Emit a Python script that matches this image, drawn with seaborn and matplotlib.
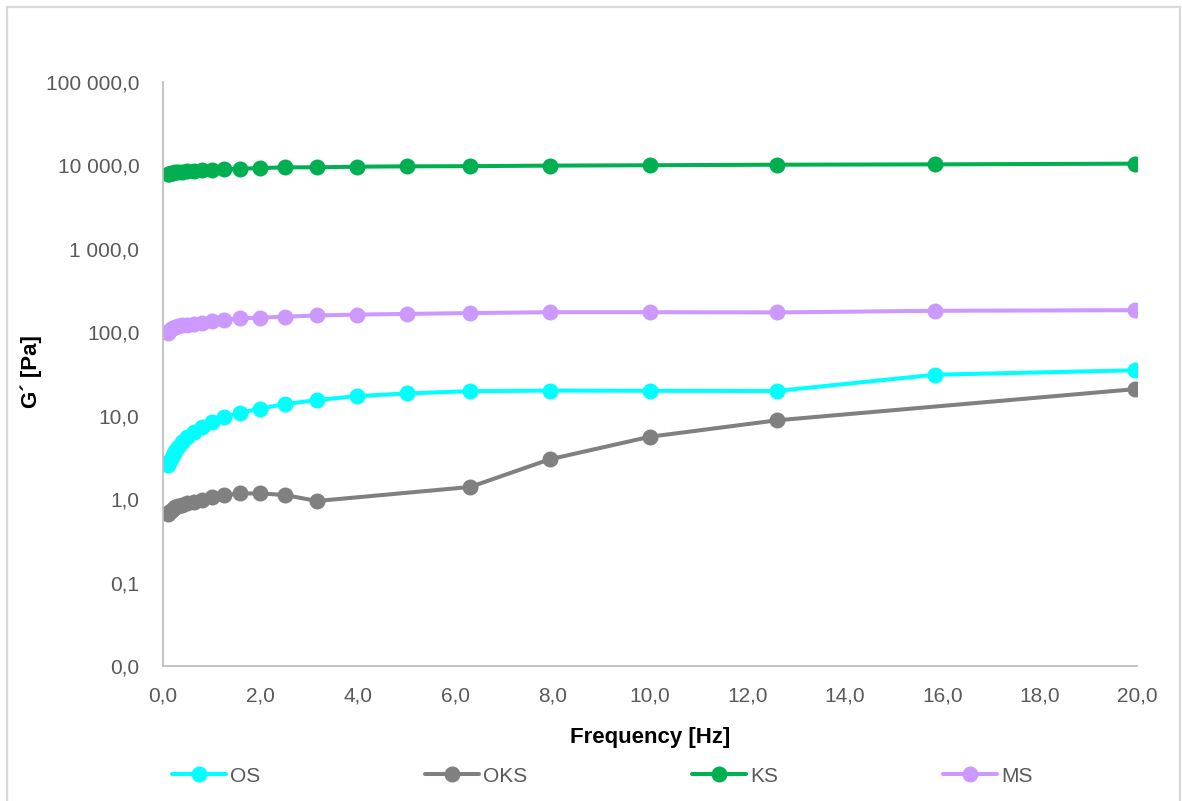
import matplotlib
matplotlib.use("Agg")
import matplotlib.pyplot as plt
import matplotlib.ticker as mticker
from matplotlib.patches import Rectangle
import seaborn as sns
import pandas as pd

# ---- data ----
freq = [0.1, 0.126, 0.158, 0.2, 0.251, 0.316, 0.398, 0.501, 0.631, 0.794,
        1.0, 1.26, 1.58, 2.0, 2.51, 3.16, 3.98, 5.01, 6.31, 7.94,
        10.0, 12.6, 15.85, 19.95]
os_vals = [2.56, 2.8, 3.05, 3.4, 3.8, 4.25, 4.85, 5.5, 6.3, 7.3,
           8.4, 9.7, 10.8, 12.2, 13.8, 15.4, 17.2, 18.5, 19.7, 20.0,
           19.9, 19.8, 31.0, 35.0]
oks_freq = [0.1, 0.126, 0.158, 0.2, 0.251, 0.316, 0.398, 0.501, 0.631, 0.794,
            1.0, 1.26, 1.58, 2.0, 2.51, 3.16, 6.31, 7.94, 10.0, 12.6, 19.95]
oks_vals = [0.67, 0.70, 0.73, 0.77, 0.80, 0.83, 0.86, 0.89, 0.93, 0.97,
            1.05, 1.12, 1.17, 1.17, 1.12, 0.95, 1.40, 3.0, 5.6, 8.8, 20.8]
ks_vals = [7800, 7950, 8050, 8150, 8250, 8350, 8450, 8550, 8650, 8720,
           8800, 8960, 9130, 9300, 9490, 9490, 9660, 9750, 9800, 9950,
           10050, 10200, 10300, 10500]
ms_vals = [99, 105, 109, 113, 116, 119, 121, 123, 126, 128,
           136, 140, 147, 150, 154, 159, 163, 166, 170, 174,
           174, 173, 181, 184]
series_names = ["OS", "OKS", "KS", "MS"]
series_colors = ["#00FFFF", "#808080", "#00B050", "#CC99FF"]
x_ticks = [0, 2, 4, 6, 8, 10, 12, 14, 16, 18, 20]
y_ticks = [0.01, 0.1, 1, 10, 100, 1000, 10000, 100000]

sns.set_style("white")
plt.rcParams['font.family'] = ['Liberation Sans', 'DejaVu Sans']

fig = plt.figure(figsize=(11.82, 8.01), dpi=100)
W, H = 1182, 801
L, R, T, B = 163, 1137, 82, 666
ax = fig.add_axes([L / W, 1 - B / H, (R - L) / W, (B - T) / H])

data = [(freq, os_vals), (oks_freq, oks_vals), (freq, ks_vals), (freq, ms_vals)]
for (xs, ys), name, col in zip(data, series_names, series_colors):
    df = pd.DataFrame({"x": xs, "y": ys})
    sns.lineplot(data=df, x="x", y="y", ax=ax, color=col, lw=2.9,
                 marker="o", markersize=11.5, markeredgewidth=0,
                 label=name, legend=False)

ax.set_yscale("log")
ax.set_xlim(0, 20)
ax.set_ylim(0.01, 100000)
ax.set_xticks(x_ticks)
ax.set_yticks(y_ticks)
ax.yaxis.set_minor_locator(mticker.NullLocator())

def yfmt(v, pos):
    return f"{v:,.1f}".replace(",", " ").replace(".", ",")

def xfmt(v, pos):
    return f"{v:.1f}".replace(".", ",")

ax.yaxis.set_major_formatter(mticker.FuncFormatter(yfmt))
ax.xaxis.set_major_formatter(mticker.FuncFormatter(xfmt))
ax.tick_params(axis="both", length=0, labelsize=15, labelcolor="#595959")
ax.tick_params(axis="y", pad=17)
ax.tick_params(axis="x", pad=15)

for s in ["top", "right"]:
    ax.spines[s].set_visible(False)
for s in ["left", "bottom"]:
    ax.spines[s].set_color("#BFBFBF")
    ax.spines[s].set_linewidth(1.3)
ax.grid(False)

ax.set_xlabel("Frequency [Hz]", fontsize=16, fontweight="bold", color="#000000")
ax.set_ylabel("G´ [Pa]", fontsize=16, fontweight="bold", color="#000000")
ax.xaxis.set_label_coords(0.5, (B - 738) / (B - T))
ax.yaxis.set_label_coords((31 - L) / (R - L), (B - 372) / (B - T))
ax.xaxis.label.set_verticalalignment("center")
ax.yaxis.label.set_verticalalignment("center")

handles, labels = ax.get_legend_handles_labels()
leg = fig.legend(handles, labels, loc="center left", ncol=4,
                 bbox_to_anchor=(172 / W, 1 - 776 / H), frameon=False,
                 fontsize=15, handlelength=2.6, handletextpad=0.2,
                 columnspacing=7.9, borderaxespad=0, borderpad=0)
for t in leg.get_texts():
    t.set_color("#595959")

fig.patches.append(Rectangle((6.5 / W, -0.01), (1180 - 6.5) / W, 1 - 6.5 / H + 0.01,
                             transform=fig.transFigure, fill=False,
                             edgecolor="#D9D9D9", lw=1.6))

fig.savefig("out.png", dpi=100)
